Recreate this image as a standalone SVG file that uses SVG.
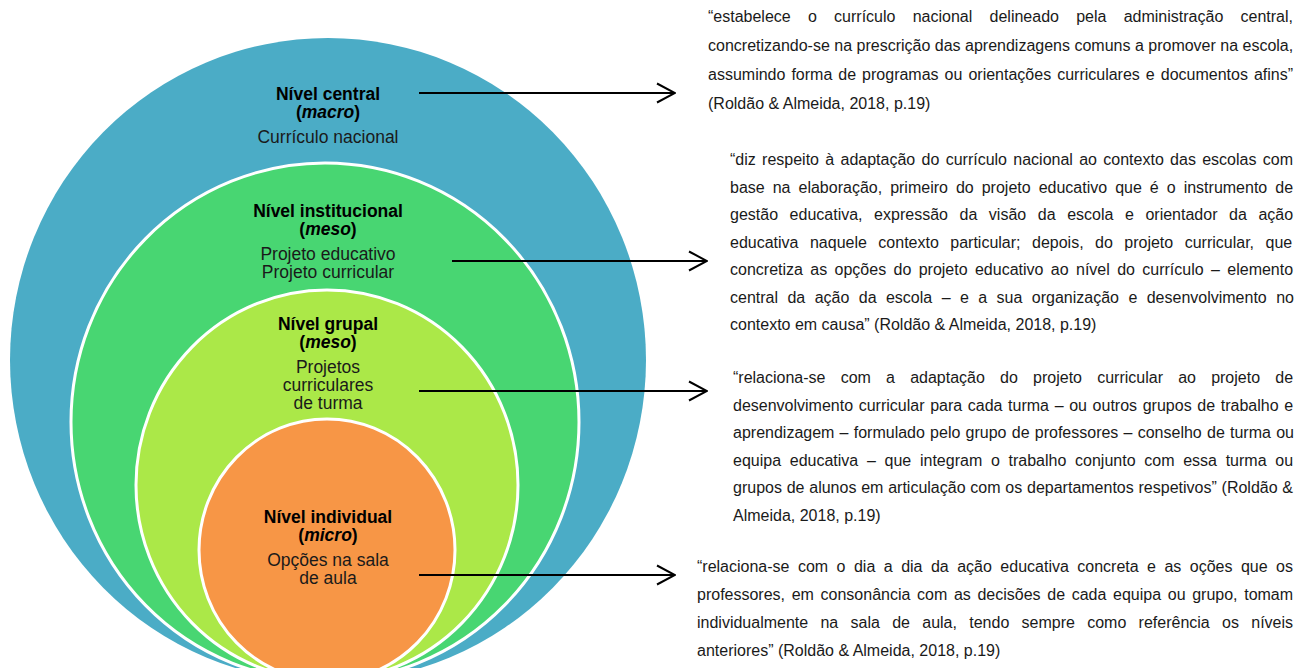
<svg xmlns="http://www.w3.org/2000/svg" width="1297" height="668" viewBox="0 0 1297 668">
<style>
.lbl{font-family:"Liberation Sans",Arial,sans-serif;font-size:17.5px;fill:#1a1a1a;text-anchor:middle}
.b{font-weight:bold;fill:#000}
.it{font-style:italic}
.q{font-family:"Liberation Sans",Arial,sans-serif;font-size:16px;fill:#1a1a1a}
.ring{stroke:#fff;stroke-width:3}
.conn{stroke:#000;stroke-width:2;fill:none}
</style>
<defs>
<marker id="arr" viewBox="0 0 20 22" refX="19" refY="11" markerWidth="20" markerHeight="22" markerUnits="userSpaceOnUse" orient="auto">
<path d="M1,1.5 L19,11 L1,20.5" fill="none" stroke="#000" stroke-width="2"/>
</marker>
</defs>
<rect width="1297" height="668" fill="#fff"/>
<g id="nivel-central">
<ellipse cx="328" cy="360" rx="318" ry="322" fill="#4BACC6"/>
<text class="lbl b" x="328" y="100">Nível central</text>
<text class="lbl b" x="328" y="118">(<tspan class="it">macro</tspan>)</text>
<text class="lbl" x="328" y="143">Currículo nacional</text>
</g>
<g id="nivel-institucional">
<ellipse class="ring" cx="325" cy="422" rx="254" ry="259" fill="#48D672"/>
<text class="lbl b" x="328" y="217">Nível institucional</text>
<text class="lbl b" x="328" y="235">(<tspan class="it">meso</tspan>)</text>
<text class="lbl" x="328" y="260">Projeto educativo</text>
<text class="lbl" x="328" y="278">Projeto curricular</text>
</g>
<g id="nivel-grupal">
<ellipse class="ring" cx="327" cy="485" rx="191" ry="195" fill="#ABE848"/>
<text class="lbl b" x="328" y="330">Nível grupal</text>
<text class="lbl b" x="328" y="348">(<tspan class="it">meso</tspan>)</text>
<text class="lbl" x="328" y="373">Projetos</text>
<text class="lbl" x="328" y="391">curriculares</text>
<text class="lbl" x="328" y="409">de turma</text>
</g>
<g id="nivel-individual">
<ellipse class="ring" cx="327" cy="550" rx="128" ry="131" fill="#F79646"/>
<text class="lbl b" x="328" y="523">Nível individual</text>
<text class="lbl b" x="328" y="541">(<tspan class="it">micro</tspan>)</text>
<text class="lbl" x="328" y="566">Opções na sala</text>
<text class="lbl" x="328" y="584">de aula</text>
</g>
<g id="connectors">
<line class="conn" x1="419" y1="93" x2="675" y2="93" marker-end="url(#arr)"/>
<line class="conn" x1="452" y1="261" x2="707" y2="261" marker-end="url(#arr)"/>
<line class="conn" x1="419" y1="391" x2="707" y2="391" marker-end="url(#arr)"/>
<line class="conn" x1="419" y1="575" x2="675" y2="575" marker-end="url(#arr)"/>
</g>
<g id="texto-central">
<text class="q" x="708" y="22" word-spacing="12.8">“estabelece o currículo nacional delineado pela administração central,</text>
<text class="q" x="708" y="51">concretizando-se na prescrição das aprendizagens comuns a promover na escola,</text>
<text class="q" x="708" y="80" word-spacing="1.57">assumindo forma de programas ou orientações curriculares e documentos afins”</text>
<text class="q" x="708" y="109">(Roldão &amp; Almeida, 2018, p.19)</text>
</g>
<g id="texto-institucional">
<text class="q" x="730" y="165" word-spacing="1.86">“diz respeito à adaptação do currículo nacional ao contexto das escolas com</text>
<text class="q" x="730" y="192.5" word-spacing="3.56">base na elaboração, primeiro do projeto educativo que é o instrumento de</text>
<text class="q" x="730" y="220" word-spacing="7.12">gestão educativa, expressão da visão da escola e orientador da ação</text>
<text class="q" x="730" y="247.5" word-spacing="7.01">educativa naquele contexto particular; depois, do projeto curricular, que</text>
<text class="q" x="730" y="275" word-spacing="2.92">concretiza as opções do projeto educativo ao nível do currículo – elemento</text>
<text class="q" x="730" y="302.5" word-spacing="4.97">central da ação da escola – e a sua organização e desenvolvimento no</text>
<text class="q" x="730" y="330">contexto em causa” (Roldão &amp; Almeida, 2018, p.19)</text>
</g>
<g id="texto-grupal">
<text class="q" x="733" y="383" word-spacing="10.74">“relaciona-se com a adaptação do projeto curricular ao projeto de</text>
<text class="q" x="733" y="410.5" word-spacing="1.19">desenvolvimento curricular para cada turma – ou outros grupos de trabalho e</text>
<text class="q" x="733" y="438" word-spacing="0.78">aprendizagem – formulado pelo grupo de professores – conselho de turma ou</text>
<text class="q" x="733" y="465.5" word-spacing="4.26">equipa educativa – que integram o trabalho conjunto com essa turma ou</text>
<text class="q" x="733" y="493" word-spacing="0.33">grupos de alunos em articulação com os departamentos respetivos” (Roldão &amp;</text>
<text class="q" x="733" y="520.5">Almeida, 2018, p.19)</text>
</g>
<g id="texto-individual">
<text class="q" x="697" y="572" word-spacing="4.01">“relaciona-se com o dia a dia da ação educativa concreta e as oções que os</text>
<text class="q" x="697" y="600" word-spacing="2.2">professores, em consonância com as decisões de cada equipa ou grupo, tomam</text>
<text class="q" x="697" y="628" word-spacing="7.84">individualmente na sala de aula, tendo sempre como referência os níveis</text>
<text class="q" x="697" y="656">anteriores” (Roldão &amp; Almeida, 2018, p.19)</text>
</g>
</svg>
